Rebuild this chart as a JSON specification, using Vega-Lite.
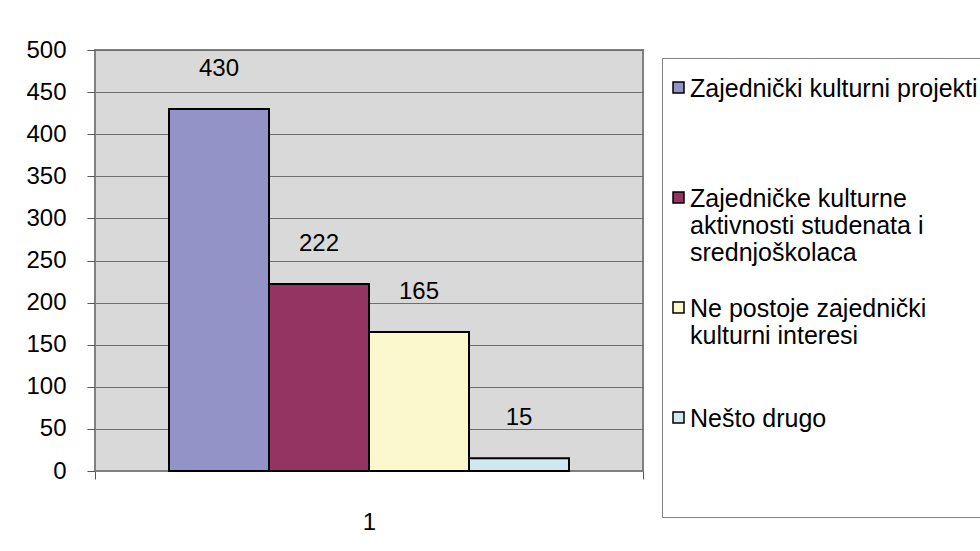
{
  "$schema": "https://vega.github.io/schema/vega-lite/v6.json",
  "autosize": "none",
  "width": 548,
  "height": 421,
  "padding": {"left": 95, "top": 50, "right": 337, "bottom": 80},
  "background": "white",
  "data": {"values": [
    {"cat": "1", "series": "Zajednički kulturni projekti", "value": 430},
    {"cat": "1", "series": "Zajedničke kulturne aktivnosti studenata i srednjoškolaca", "value": 222},
    {"cat": "1", "series": "Ne postoje zajednički kulturni interesi", "value": 165},
    {"cat": "1", "series": "Nešto drugo", "value": 15}
  ]},
  "encoding": {
    "x": {"field": "cat", "type": "nominal", "scale": {"paddingInner": 0, "paddingOuter": 0},
      "axis": {"title": null, "labelAngle": 0, "tickBand": "extent", "tickSize": 8, "tickColor": "#555555", "domainColor": "#808080", "labelPadding": 31, "labelFontSize": 24, "labelFont": "Liberation Sans", "labelColor": "black", "grid": false}},
    "xOffset": {"field": "series", "type": "nominal",
      "sort": ["Zajednički kulturni projekti", "Zajedničke kulturne aktivnosti studenata i srednjoškolaca", "Ne postoje zajednički kulturni interesi", "Nešto drugo"],
      "scale": {"paddingInner": 0, "paddingOuter": 0.74}},
    "y": {"field": "value", "type": "quantitative", "scale": {"domain": [0, 500], "nice": false},
      "axis": {"title": null, "values": [0, 50, 100, 150, 200, 250, 300, 350, 400, 450, 500], "grid": true, "gridColor": "#6e6e6e", "gridWidth": 1, "domainColor": "#808080", "tickColor": "#555555", "tickSize": 8, "labelPadding": 21, "labelFontSize": 24, "labelFont": "Liberation Sans", "labelColor": "black"}}
  },
  "layer": [
    {
      "mark": {"type": "bar", "stroke": "black", "strokeWidth": 2, "opacity": 1},
      "encoding": {
        "color": {"field": "series", "type": "nominal",
          "scale": {"domain": ["Zajednički kulturni projekti", "Zajedničke kulturne aktivnosti studenata i srednjoškolaca", "Ne postoje zajednički kulturni interesi", "Nešto drugo"],
            "range": ["#9393c7", "#943463", "#fbf8cd", "#ceeaf0"]},
          "legend": {
            "orient": "none", "legendX": 567, "legendY": 8,
            "padding": 4, "strokeColor": "#808080", "fillColor": "white",
            "title": " ", "titleFontSize": 8, "titlePadding": 5,
            "symbolType": "square", "symbolSize": 121, "symbolStrokeColor": "black", "symbolStrokeWidth": 1.5, "symbolOpacity": 1,
            "labelFontSize": 25, "labelFont": "Liberation Sans", "labelColor": "black", "labelLineHeight": 28.5, "labelBaseline": "top", "labelOffset": -1, "labelLimit": 500,
            "rowPadding": 29,
            "labelExpr": "datum.label == 'Zajednički kulturni projekti' ? ['Zajednički kulturni projekti', ' ', ' '] : datum.label == 'Nešto drugo' ? ['Nešto drugo', ' ', ' ', ' '] : datum.label == 'Ne postoje zajednički kulturni interesi' ? ['Ne postoje zajednički', 'kulturni interesi', ' '] : ['Zajedničke kulturne', 'aktivnosti studenata i', 'srednjoškolaca']",
            "encode": {"labels": {"update": {"dy": {"value": -10.5}}}}
          }}
      }
    },
    {
      "mark": {"type": "text", "dy": -40, "fontSize": 24, "font": "Liberation Sans", "baseline": "middle", "color": "black"},
      "encoding": {"text": {"field": "value", "type": "quantitative"}}
    }
  ],
  "config": {"view": {"fill": "#d9d9d9", "stroke": "#808080", "strokeWidth": 2}}
}
